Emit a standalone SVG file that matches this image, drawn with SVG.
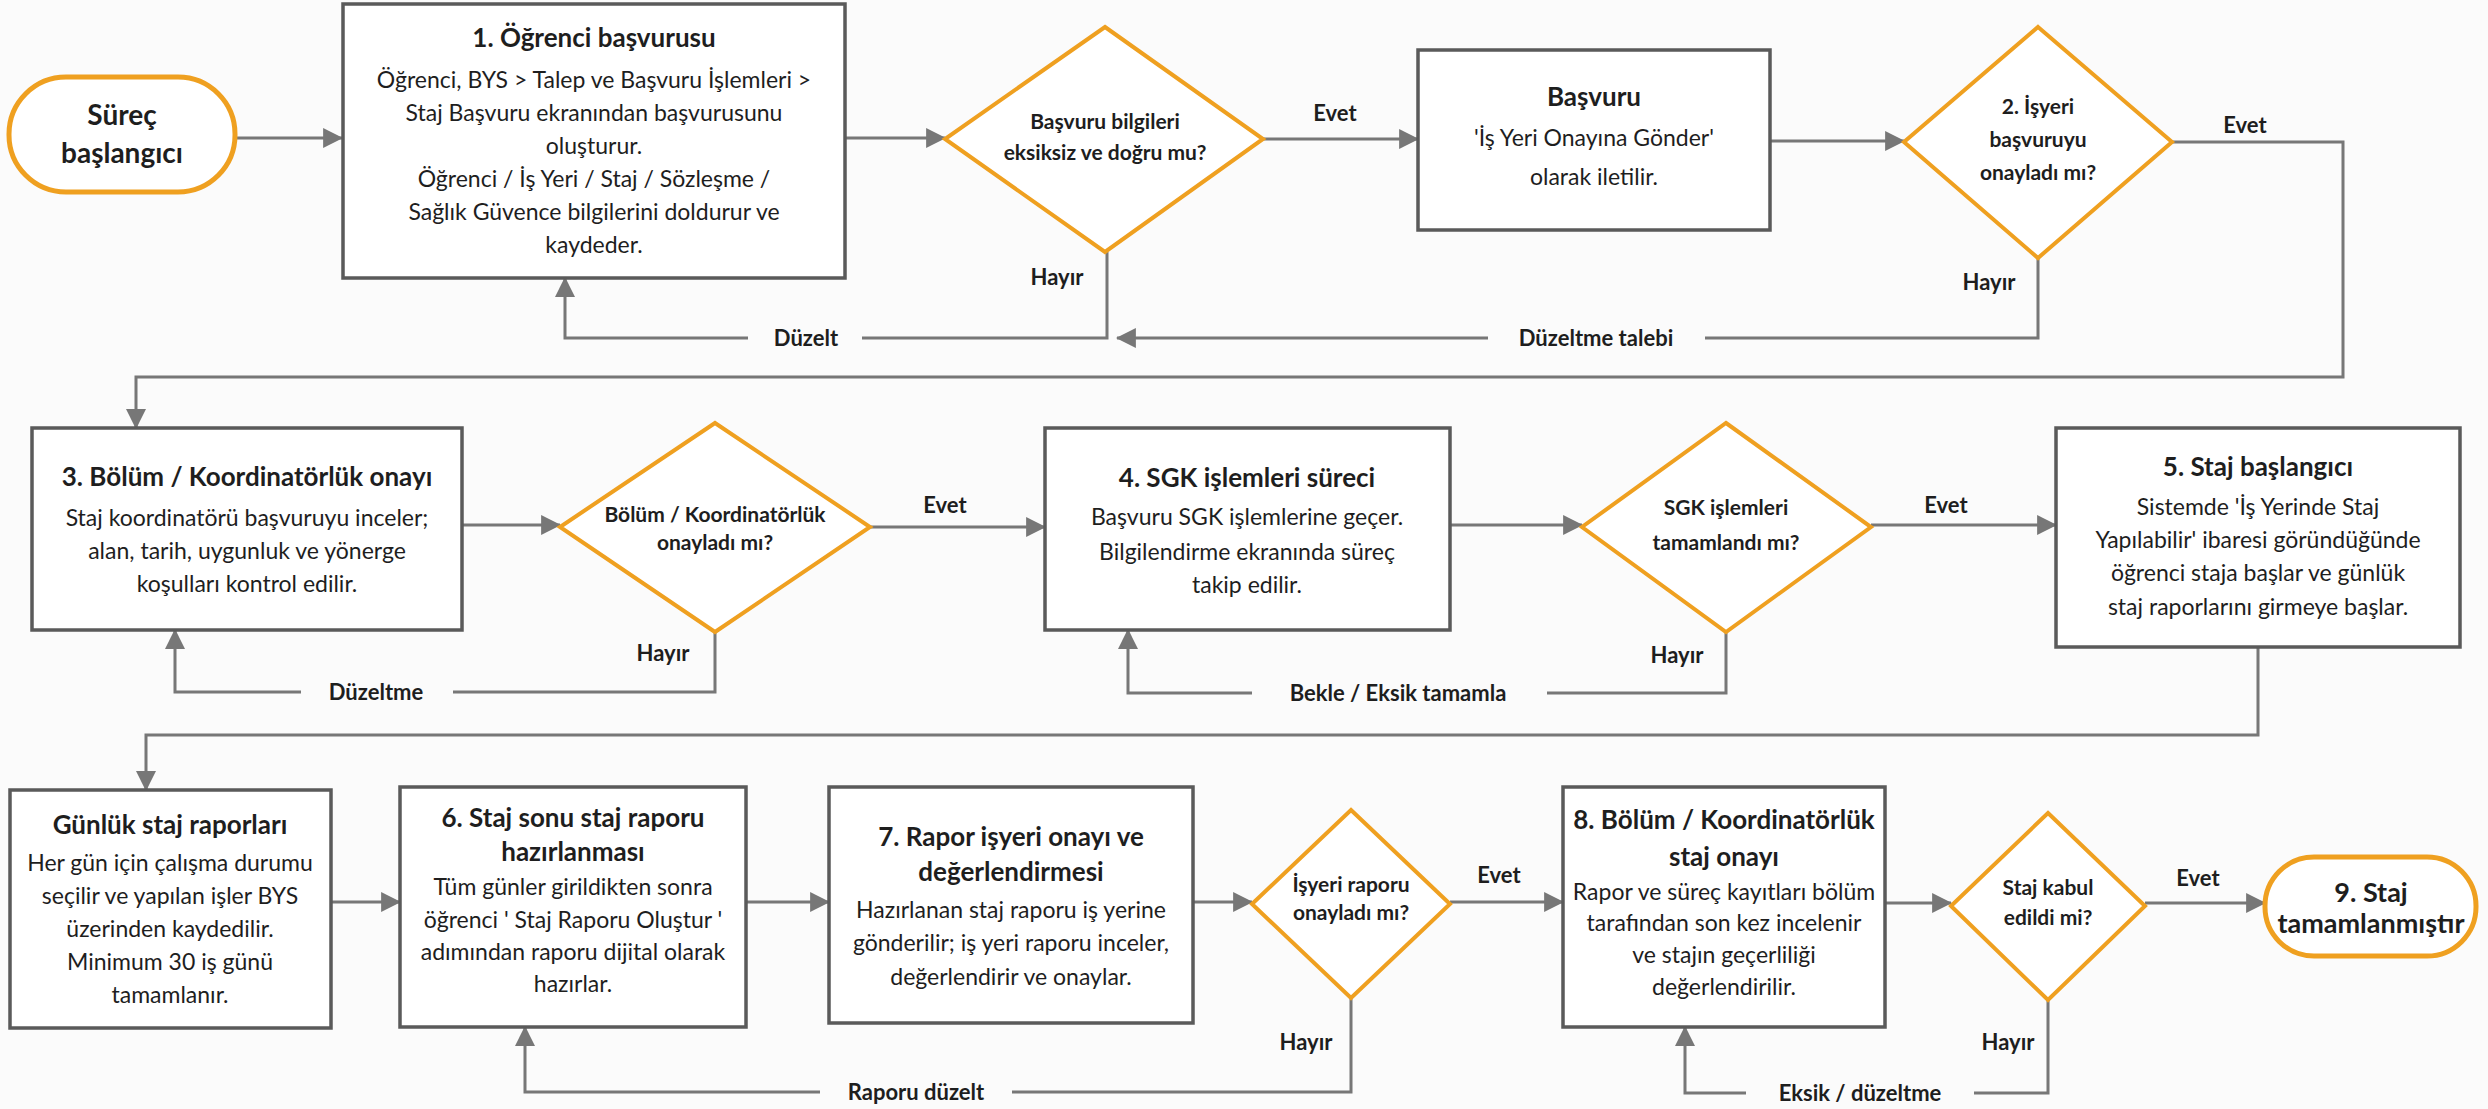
<svg xmlns="http://www.w3.org/2000/svg" width="2488" height="1109" viewBox="0 0 2488 1109">
<style>
.bg{fill:#fbfbfb}
.box{fill:#ffffff;stroke:#5a5a5a;stroke-width:3.5}
.dia{fill:#ffffff;stroke:#efa020;stroke-width:4}
.term{fill:#ffffff;stroke:#efa020;stroke-width:5}
.ln{fill:none;stroke:#777777;stroke-width:3}
text{font-family:Lato,"Open Sans","Liberation Sans",sans-serif;fill:#1e1e1e;text-anchor:middle}
.t{font-size:26px;font-weight:700}
.b{font-size:23px;font-weight:400}
.d{font-size:21px;font-weight:700}
.lb{font-size:22px;font-weight:700}
.tm{font-size:28px;font-weight:700}
.te{font-size:27px;font-weight:700}
</style>
<defs>
<marker id="ah" markerUnits="userSpaceOnUse" markerWidth="20" markerHeight="20" viewBox="0 0 18 18" refX="17" refY="9" orient="auto">
<path d="M0,0 L18,9 L0,18 z" fill="#777777"/>
</marker>
</defs>
<rect class="bg" x="0" y="0" width="2488" height="1109"/>

<g id="connectors">
<path class="ln" d="M235,138 H342" marker-end="url(#ah)"/>
<path class="ln" d="M845,138 H945" marker-end="url(#ah)"/>
<path class="ln" d="M1263,139 H1418" marker-end="url(#ah)"/>
<path class="ln" d="M1770,141 H1904" marker-end="url(#ah)"/>
<path class="ln" d="M2172,142 H2343 V377 H136 V428" marker-end="url(#ah)"/>
<path class="ln" d="M1107,252 V338 H862 M748,338 H565 V278" marker-end="url(#ah)"/>
<path class="ln" d="M2038,258 V338 H1705 M1488,338 H1117" marker-end="url(#ah)"/>
<path class="ln" d="M462,525 H560" marker-end="url(#ah)"/>
<path class="ln" d="M870,527 H1045" marker-end="url(#ah)"/>
<path class="ln" d="M715,632 V692 H453 M301,692 H175 V630" marker-end="url(#ah)"/>
<path class="ln" d="M1450,525 H1582" marker-end="url(#ah)"/>
<path class="ln" d="M1871,525 H2056" marker-end="url(#ah)"/>
<path class="ln" d="M1726,632 V693 H1547 M1252,693 H1128 V630" marker-end="url(#ah)"/>
<path class="ln" d="M2258,647 V735 H146 V790" marker-end="url(#ah)"/>
<path class="ln" d="M331,902 H400" marker-end="url(#ah)"/>
<path class="ln" d="M746,902 H829" marker-end="url(#ah)"/>
<path class="ln" d="M1193,902 H1252" marker-end="url(#ah)"/>
<path class="ln" d="M1450,902 H1563" marker-end="url(#ah)"/>
<path class="ln" d="M1351,998 V1092 H1012 M820,1092 H525 V1027" marker-end="url(#ah)"/>
<path class="ln" d="M1885,903 H1951" marker-end="url(#ah)"/>
<path class="ln" d="M2145,903 H2265" marker-end="url(#ah)"/>
<path class="ln" d="M2048,1000 V1093 H1974 M1746,1093 H1685 V1027" marker-end="url(#ah)"/>
<text class="lb" x="1335" y="121">Evet</text>
<text class="lb" x="2245" y="133">Evet</text>
<text class="lb" x="945" y="513">Evet</text>
<text class="lb" x="1946" y="513">Evet</text>
<text class="lb" x="1499" y="883">Evet</text>
<text class="lb" x="2198" y="886">Evet</text>
<text class="lb" x="1057" y="285">Hayır</text>
<text class="lb" x="1989" y="290">Hayır</text>
<text class="lb" x="663" y="661">Hayır</text>
<text class="lb" x="1677" y="663">Hayır</text>
<text class="lb" x="1306" y="1050">Hayır</text>
<text class="lb" x="2008" y="1050">Hayır</text>
<text class="lb" x="806" y="346">Düzelt</text>
<text class="lb" x="1596" y="346">Düzeltme talebi</text>
<text class="lb" x="376" y="700">Düzeltme</text>
<text class="lb" x="1398" y="701">Bekle / Eksik tamamla</text>
<text class="lb" x="916" y="1100">Raporu düzelt</text>
<text class="lb" x="1860" y="1101">Eksik / düzeltme</text>
</g>

<g id="start">
<rect class="term" x="9" y="77" width="226" height="115" rx="57"/>
<text class="tm" x="122" y="125">Süreç</text>
<text class="tm" x="122" y="163">başlangıcı</text>
</g>

<g id="n1">
<rect class="box" x="343" y="4" width="502" height="274"/>
<text class="t" x="594" y="47">1. Öğrenci başvurusu</text>
<text class="b" x="594" y="88">Öğrenci, BYS &gt; Talep ve Başvuru İşlemleri &gt;</text>
<text class="b" x="594" y="121">Staj Başvuru ekranından başvurusunu</text>
<text class="b" x="594" y="154">oluşturur.</text>
<text class="b" x="594" y="187">Öğrenci / İş Yeri / Staj / Sözleşme /</text>
<text class="b" x="594" y="220">Sağlık Güvence bilgilerini doldurur ve</text>
<text class="b" x="594" y="253">kaydeder.</text>
</g>

<g id="d1">
<polygon class="dia" points="1105,27 1263,139 1105,252 945,139"/>
<text class="d" x="1105" y="129">Başvuru bilgileri</text>
<text class="d" x="1105" y="160">eksiksiz ve doğru mu?</text>
</g>

<g id="n_basvuru">
<rect class="box" x="1418" y="50" width="352" height="180"/>
<text class="t" x="1594" y="106">Başvuru</text>
<text class="b" x="1594" y="146">'İş Yeri Onayına Gönder'</text>
<text class="b" x="1594" y="185">olarak iletilir.</text>
</g>

<g id="d2">
<polygon class="dia" points="2038,27 2172,142 2038,258 1904,142"/>
<text class="d" x="2038" y="114">2. İşyeri</text>
<text class="d" x="2038" y="147">başvuruyu</text>
<text class="d" x="2038" y="180">onayladı mı?</text>
</g>

<g id="n3">
<rect class="box" x="32" y="428" width="430" height="202"/>
<text class="t" x="247" y="486">3. Bölüm / Koordinatörlük onayı</text>
<text class="b" x="247" y="526">Staj koordinatörü başvuruyu inceler;</text>
<text class="b" x="247" y="559">alan, tarih, uygunluk ve yönerge</text>
<text class="b" x="247" y="592">koşulları kontrol edilir.</text>
</g>

<g id="d3">
<polygon class="dia" points="715,423 870,527 715,632 560,527"/>
<text class="d" x="715" y="522">Bölüm / Koordinatörlük</text>
<text class="d" x="715" y="550">onayladı mı?</text>
</g>

<g id="n4">
<rect class="box" x="1045" y="428" width="405" height="202"/>
<text class="t" x="1247" y="487">4. SGK işlemleri süreci</text>
<text class="b" x="1247" y="525">Başvuru SGK işlemlerine geçer.</text>
<text class="b" x="1247" y="560">Bilgilendirme ekranında süreç</text>
<text class="b" x="1247" y="593">takip edilir.</text>
</g>

<g id="d4">
<polygon class="dia" points="1726,423 1871,527 1726,632 1582,527"/>
<text class="d" x="1726" y="515">SGK işlemleri</text>
<text class="d" x="1726" y="550">tamamlandı mı?</text>
</g>

<g id="n5">
<rect class="box" x="2056" y="428" width="404" height="219"/>
<text class="t" x="2258" y="476">5. Staj başlangıcı</text>
<text class="b" x="2258" y="515">Sistemde 'İş Yerinde Staj</text>
<text class="b" x="2258" y="548">Yapılabilir' ibaresi göründüğünde</text>
<text class="b" x="2258" y="581">öğrenci staja başlar ve günlük</text>
<text class="b" x="2258" y="615">staj raporlarını girmeye başlar.</text>
</g>

<g id="n_gunluk">
<rect class="box" x="10" y="790" width="321" height="238"/>
<text class="t" x="170" y="834">Günlük staj raporları</text>
<text class="b" x="170" y="871">Her gün için çalışma durumu</text>
<text class="b" x="170" y="904">seçilir ve yapılan işler BYS</text>
<text class="b" x="170" y="937">üzerinden kaydedilir.</text>
<text class="b" x="170" y="970">Minimum 30 iş günü</text>
<text class="b" x="170" y="1003">tamamlanır.</text>
</g>

<g id="n6">
<rect class="box" x="400" y="787" width="346" height="240"/>
<text class="t" x="573" y="827">6. Staj sonu staj raporu</text>
<text class="t" x="573" y="861">hazırlanması</text>
<text class="b" x="573" y="895">Tüm günler girildikten sonra</text>
<text class="b" x="573" y="928">öğrenci ' Staj Raporu Oluştur '</text>
<text class="b" x="573" y="960">adımından raporu dijital olarak</text>
<text class="b" x="573" y="992">hazırlar.</text>
</g>

<g id="n7">
<rect class="box" x="829" y="787" width="364" height="236"/>
<text class="t" x="1011" y="846">7. Rapor işyeri onayı ve</text>
<text class="t" x="1011" y="881">değerlendirmesi</text>
<text class="b" x="1011" y="918">Hazırlanan staj raporu iş yerine</text>
<text class="b" x="1011" y="951">gönderilir; iş yeri raporu inceler,</text>
<text class="b" x="1011" y="985">değerlendirir ve onaylar.</text>
</g>

<g id="d5">
<polygon class="dia" points="1351,810 1450,904 1351,998 1252,904"/>
<text class="d" x="1351" y="892">İşyeri raporu</text>
<text class="d" x="1351" y="920">onayladı mı?</text>
</g>

<g id="n8">
<rect class="box" x="1563" y="787" width="322" height="240"/>
<text class="t" x="1724" y="829">8. Bölüm / Koordinatörlük</text>
<text class="t" x="1724" y="866">staj onayı</text>
<text class="b" x="1724" y="900">Rapor ve süreç kayıtları bölüm</text>
<text class="b" x="1724" y="931">tarafından son kez incelenir</text>
<text class="b" x="1724" y="963">ve stajın geçerliliği</text>
<text class="b" x="1724" y="995">değerlendirilir.</text>
</g>

<g id="d6">
<polygon class="dia" points="2048,813 2145,906 2048,1000 1951,906"/>
<text class="d" x="2048" y="895">Staj kabul</text>
<text class="d" x="2048" y="925">edildi mi?</text>
</g>

<g id="end">
<rect class="term" x="2265" y="857" width="211" height="99" rx="49"/>
<text class="te" x="2371" y="902">9. Staj</text>
<text class="te" x="2371" y="933">tamamlanmıştır</text>
</g>
</svg>
